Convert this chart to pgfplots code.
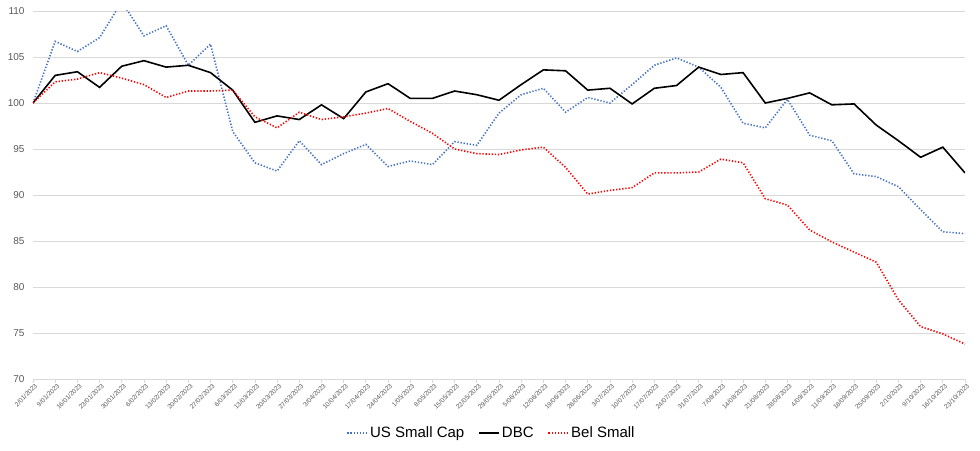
\documentclass[border=0pt]{standalone}
\usepackage{fontspec}
\setmainfont{Liberation Sans}
\usepackage{pgfplots}
\pgfplotsset{compat=1.18}
\usepackage{pgfplotstable}

\definecolor{usblue}{RGB}{68,114,196}
\definecolor{belred}{RGB}{255,0,0}
\definecolor{gridgray}{RGB}{217,217,217}
\definecolor{labelgray}{RGB}{89,89,89}

% week index, US Small Cap, DBC, Bel Small
\pgfplotstableread{
i us dbc bel
0 100.0 100.0 100.0
1 106.7 103.0 102.3
2 105.6 103.4 102.6
3 107.1 101.7 103.3
4 111.0 104.0 102.7
5 107.3 104.6 102.0
6 108.4 103.9 100.6
7 104.1 104.1 101.3
8 106.4 103.3 101.3
9 96.9 101.4 101.4
10 93.5 97.9 98.5
11 92.6 98.6 97.3
12 95.9 98.2 99.0
13 93.3 99.8 98.2
14 94.5 98.3 98.5
15 95.5 101.2 98.9
16 93.1 102.1 99.4
17 93.7 100.5 98.0
18 93.3 100.5 96.7
19 95.8 101.3 95.0
20 95.4 100.9 94.5
21 98.9 100.3 94.4
22 100.9 102.0 94.9
23 101.6 103.6 95.2
24 99.0 103.5 93.0
25 100.6 101.4 90.1
26 100.0 101.6 90.5
27 102.0 99.9 90.8
28 104.1 101.6 92.4
29 104.9 101.9 92.4
30 103.9 103.9 92.5
31 101.7 103.1 93.9
32 97.8 103.3 93.5
33 97.3 100.0 89.6
34 100.4 100.5 88.9
35 96.5 101.1 86.2
36 95.9 99.8 84.9
37 92.3 99.9 83.8
38 92.0 97.6 82.7
39 90.9 95.9 78.6
40 88.4 94.1 75.7
41 86.0 95.2 74.9
42 85.8 92.4 73.8
}\perfdata

\begin{document}
\begin{tikzpicture}
\begin{axis}[
  scale only axis,
  width=932pt, height=368pt,
  xmin=0, xmax=42, ymin=70, ymax=110,
  xtick={0,...,42},
  xticklabels={2/01/2023,9/01/2023,16/01/2023,23/01/2023,30/01/2023,6/02/2023,13/02/2023,20/02/2023,27/02/2023,6/03/2023,13/03/2023,20/03/2023,27/03/2023,3/04/2023,10/04/2023,17/04/2023,24/04/2023,1/05/2023,8/05/2023,15/05/2023,22/05/2023,29/05/2023,5/06/2023,12/06/2023,19/06/2023,26/06/2023,3/07/2023,10/07/2023,17/07/2023,24/07/2023,31/07/2023,7/08/2023,14/08/2023,21/08/2023,28/08/2023,4/09/2023,11/09/2023,18/09/2023,25/09/2023,2/10/2023,9/10/2023,16/10/2023,23/10/2023},
  ytick={70,75,...,110},
  axis x line*=bottom,
  axis y line*=left,
  x axis line style={draw=gridgray, line width=0.8pt},
  y axis line style={draw=none},
  ytick style={draw=none},
  xtick style={draw=gridgray, line width=0.8pt},
  tick align=outside,
  major tick length=4pt,
  ymajorgrids,
  grid style={gridgray, line width=0.8pt},
  /pgf/number format/assume math mode=true,
  yticklabel style={font=\fontsize{10}{12}\selectfont, text=labelgray, xshift=-1pt},
  xticklabel style={font=\fontsize{6.5}{7}\selectfont, text=labelgray, rotate=45, anchor=north east, inner sep=1pt, xshift=2pt},
  legend style={at={(0.492,-0.147)}, anchor=center, draw=none, fill=none,
    legend columns=3, font=\fontsize{15}{17}\selectfont,
    /tikz/every even column/.append style={column sep=12pt}},
  legend image code/.code={\draw[#1] (0pt,0pt) -- (20pt,0pt);},
]
\addplot[usblue, line width=1.6pt, dash pattern=on 1.3pt off 1.8pt] table[x=i, y=us] {\perfdata};
\addlegendentry{US Small Cap}
\addplot[black, line width=1.6pt] table[x=i, y=dbc] {\perfdata};
\addlegendentry{DBC}
\addplot[belred, line width=1.6pt, dash pattern=on 1.3pt off 1.8pt] table[x=i, y=bel] {\perfdata};
\addlegendentry{Bel Small}
\end{axis}
\pgfresetboundingbox
\path[use as bounding box] ([xshift=-33pt,yshift=-71pt]current axis.south west) rectangle ([xshift=15pt,yshift=11pt]current axis.north east);
\end{tikzpicture}
\end{document}
